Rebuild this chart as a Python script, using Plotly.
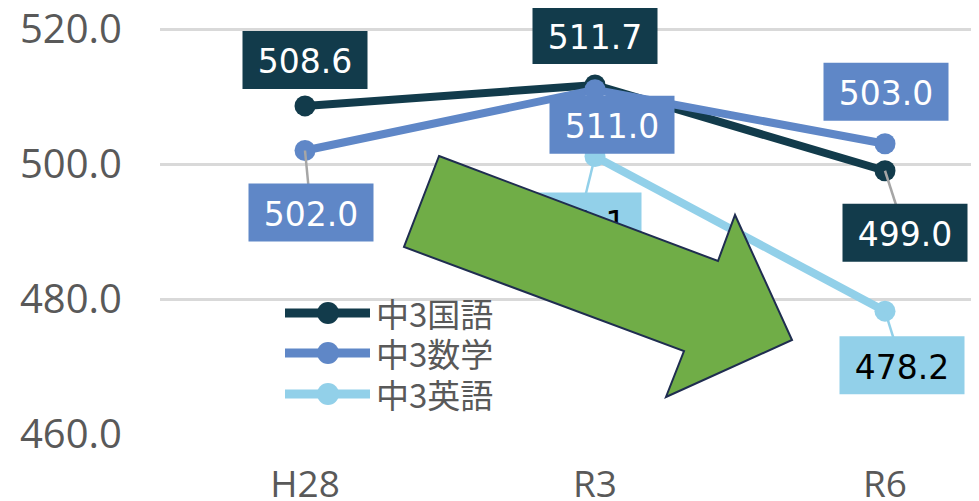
import plotly.graph_objects as go

# ---- data ----
categories = ["H28", "R3", "R6"]
kokugo = [508.6, 511.7, 499.0]
sugaku = [502.0, 511.0, 503.0]
eigo = [None, 501.1, 478.2]
series_names = ["中3国語", "中3数学", "中3英語"]
y_ticks = [460, 480, 500, 520]

# ---- styles ----
colors = ["#123b4b", "#5f87c7", "#92d0e9"]
label_text_colors = ["white", "white", "black"]
leader_colors = ["#a6a6a6", "#a6a6a6", "#92d0e9"]
# label offsets (dx right, dy down in px) and whether a leader line is shown
label_offsets = [
    [(0, -46, False), (0, -50, False), (20, 62, True)],
    [(6, 62, True), (17, 35, False), (1, -52, False)],
    [None, (-16, 65, True), (17, 54, True)],
]
OFF = 8  # default page body margin
W, H = 979 - OFF, 501 - OFF
ML, MR, MT = 160 - OFF, 0, 0
PLOT_BOTTOM = 434 - OFF           # figure px of the 460 line
MB = H - PLOT_BOTTOM
PW, PH = W - ML - MR, H - MT - MB
BOX_W, BOX_H = 125, 58
YPX = 6.75                         # px per value unit
X_RANGE = [-0.5, -0.5 + PW / 290.0]
Y_RANGE = [460, 460 + PH / YPX]
XS = 290.0
YS = YPX

def px(xp, yp):
    """screen pixel -> paper coords"""
    return (xp - OFF - ML) / PW, (PLOT_BOTTOM - (yp - OFF)) / PH

fig = go.Figure()
all_series = [kokugo, sugaku, eigo]
for name, vals, col in zip(series_names, all_series, colors):
    fig.add_trace(go.Scatter(
        x=categories, y=vals, name=name, mode="lines+markers",
        line=dict(color=col, width=8), marker=dict(color=col, size=21),
        showlegend=False, connectgaps=False,
    ))

shapes = []
# leader lines
for si, vals in enumerate(all_series):
    for ci, v in enumerate(vals):
        off = label_offsets[si][ci]
        if v is None or off is None:
            continue
        dx, dy, lead = off
        if lead:
            shapes.append(dict(type="line", xref="x", yref="y",
                               xsizemode="pixel", ysizemode="pixel",
                               xanchor=categories[ci], yanchor=v,
                               x0=0, y0=0, x1=dx, y1=-dy,
                               line=dict(color=leader_colors[si], width=2.5),
                               layer="above"))
# label boxes (in data units so that the shape label is placed correctly)
for si, vals in enumerate(all_series):
    for ci, v in enumerate(vals):
        off = label_offsets[si][ci]
        if v is None or off is None:
            continue
        dx, dy, lead = off
        cx = ci + dx / XS
        cy = v - dy / YS
        shapes.append(dict(type="rect", xref="x", yref="y",
                           x0=cx - BOX_W / 2 / XS, x1=cx + BOX_W / 2 / XS,
                           y0=cy - BOX_H / 2 / YS, y1=cy + BOX_H / 2 / YS,
                           fillcolor=colors[si], line=dict(width=0),
                           layer="above",
                           label=dict(text=f"{v:.1f}", textposition="middle center",
                                      font=dict(family="DejaVu Sans", size=33,
                                                color=label_text_colors[si]))))

# green arrow (decoration)
arrow_px = [(439, 156), (718, 261), (735, 215), (792, 340), (666, 397), (684, 351), (404, 247)]
pts = [px(a, b) for a, b in arrow_px]
path = "M " + " L ".join(f"{x:.4f},{y:.4f}" for x, y in pts) + " Z"
shapes.append(dict(type="path", xref="paper", yref="paper", path=path,
                   fillcolor="#70ad47", line=dict(color="#1f2d50", width=2),
                   layer="above"))

# custom legend
annotations = []
legend_rows = [313, 353, 394]
for name, col, yr in zip(series_names, colors, legend_rows):
    x0, y0 = px(285, yr)
    x1, _ = px(370, yr)
    xm, _ = px(328, yr)
    shapes.append(dict(type="line", xref="paper", yref="paper",
                       x0=x0, x1=x1, y0=y0, y1=y0,
                       line=dict(color=col, width=9), layer="above"))
    shapes.append(dict(type="circle", xref="paper", yref="paper",
                       xsizemode="pixel", ysizemode="pixel",
                       xanchor=xm, yanchor=y0, x0=-11, x1=11, y0=-11, y1=11,
                       fillcolor=col, line=dict(width=0), layer="above"))
    tx, _ = px(374, yr)
    annotations.append(dict(xref="paper", yref="paper", x=tx, y=y0,
                            xanchor="left", yanchor="middle", showarrow=False,
                            text=name, height=38,
                            font=dict(family="Noto Sans CJK JP", size=33, color="#595959")))

fig.update_layout(
    width=W, height=H, autosize=False,
    margin=dict(l=ML, r=MR, t=MT, b=MB),
    paper_bgcolor="white", plot_bgcolor="white",
    shapes=shapes, annotations=annotations,
    xaxis=dict(type="category", range=X_RANGE, showgrid=False, showline=False,
               zeroline=False, ticks="", ticklabelstandoff=25, automargin=False,
               ticklabeloverflow="allow",
               tickfont=dict(family="Open Sans", size=37, color="#595959")),
    yaxis=dict(range=Y_RANGE, tickvals=y_ticks, tickformat=".1f",
               showgrid=True, gridcolor="#d9d9d9", gridwidth=2.5, automargin=False,
               zeroline=False, showline=False, ticks="", ticklabelstandoff=37,
               ticklabeloverflow="allow",
               tickfont=dict(family="Open Sans", size=40, color="#595959")),
    showlegend=False,
)

fig.write_html("out.html")
